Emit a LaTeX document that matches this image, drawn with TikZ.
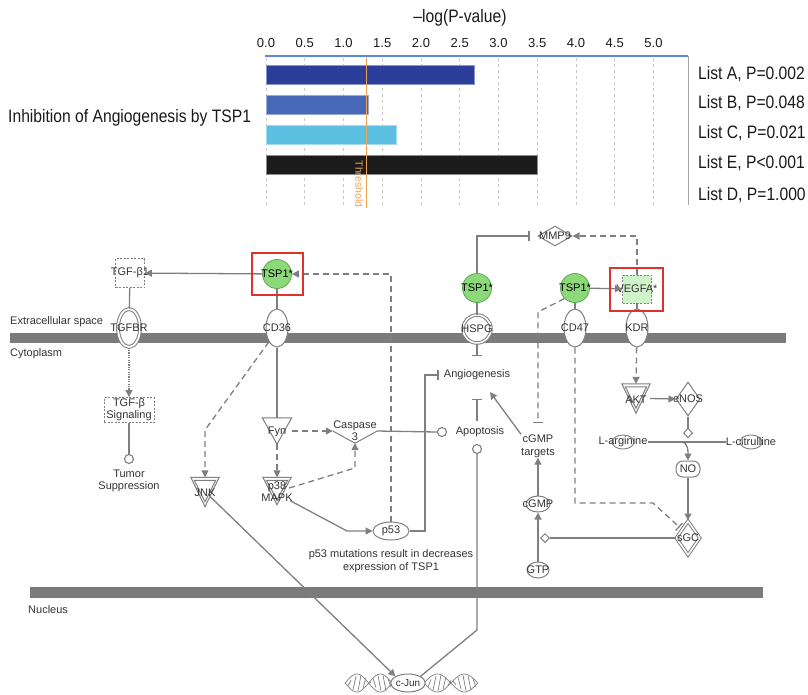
\documentclass[tikz,border=0pt]{standalone}
\usepackage{fontspec}
\setmainfont{Liberation Sans}
\newfontfamily\condfont[FakeStretch=0.87]{Liberation Sans}
\usetikzlibrary{shapes.geometric,arrows.meta,calc}
\definecolor{lc}{HTML}{7F7F7F}
\definecolor{tc}{HTML}{333333}
\definecolor{memb}{HTML}{7B7B7B}
\definecolor{gfill}{HTML}{8CD97A}
\definecolor{gdraw}{HTML}{5FA552}
\definecolor{redb}{HTML}{E0312B}
\definecolor{barA}{HTML}{2B3E99}
\definecolor{barB}{HTML}{4767B9}
\definecolor{barC}{HTML}{5CC0E2}
\definecolor{barE}{HTML}{1C1C1C}
\definecolor{axb}{HTML}{5A8AD8}
\definecolor{thr}{HTML}{F0A050}
\definecolor{vegf}{HTML}{CFF2C8}
\definecolor{gridc}{HTML}{C8C8C8}
\begin{document}
\begin{tikzpicture}[x=1pt,y=-1pt,
  ln/.style={draw=lc, line width=1.3pt},
  dsh/.style={draw=lc, line width=1.3pt, dash pattern=on 6pt off 4pt},
  dtd/.style={draw=lc, line width=1.1pt, dash pattern=on 1.2pt off 1.2pt},
  arr/.style={-{Triangle[length=7pt,width=7pt]}},
  inh/.style={-{Bar[width=10pt,line width=1.3pt]}},
  txt/.style={font=\fontsize{11}{12}\selectfont, text=tc, inner sep=0pt, align=center},
  big/.style={font=\fontsize{11}{13}\selectfont, text=tc, inner sep=0pt, align=center},
  side/.style={font=\fontsize{11}{13}\selectfont, text=tc, inner sep=0pt},
  chart/.style={font=\condfont\fontsize{18}{20}\selectfont, text=black!90, inner sep=0pt},
  tick/.style={font=\fontsize{13}{15}\selectfont, text=black!90, inner sep=0pt},
  gc/.style={circle, minimum size=29pt, inner sep=0pt, fill=gfill, draw=gdraw, line width=0.8pt},
  elp/.style={ellipse, minimum width=22pt, minimum height=38pt, inner sep=0pt, fill=white, draw=lc, line width=1pt},
  dbox/.style={rectangle, draw=lc, dash pattern=on 2pt off 1.5pt, line width=0.8pt, fill=white, inner sep=0pt},
  dia/.style={diamond, draw=lc, fill=white, line width=1pt, inner sep=0pt},
  smc/.style={circle, draw=lc, fill=white, line width=1.1pt, minimum size=9pt, inner sep=0pt},
  hid/.style={rectangle, draw=none, inner sep=0pt},
  tri/.style={draw=lc, line width=1pt, fill=white},
  dna/.style={draw=lc, line width=0.7pt},
  every label/.style={font=\fontsize{11}{12}\selectfont, text=tc, inner sep=0pt, align=center},
  redbox/.style={draw=redb, line width=2.5pt},
  gridl/.style={draw=gridc, line width=0.7pt, dash pattern=on 3pt off 3pt}
]
\useasboundingbox (0,0) rectangle (808,694);

% ================= chart =================
\foreach \k in {0,...,10} \draw[gridl] ({266+\k*38.75},58) -- ({266+\k*38.75},206);
\draw[gray!70, line width=1pt] (688,56) -- (688,205);
\filldraw[fill=barA, draw=barA!55!white, line width=0.8pt] (266,65) rectangle (474,84);
\filldraw[fill=barB, draw=barB!55!white, line width=0.8pt] (266,95) rectangle (368,114);
\filldraw[fill=barC, draw=barC!55!white, line width=0.8pt] (266,125) rectangle (396,144);
\filldraw[fill=barE, draw=black!45, line width=0.8pt] (266,155) rectangle (537,174);
\draw[thr, line width=0.9pt] (366.5,57) -- (366.5,208);
\draw[axb, line width=2.5pt] (265,56) -- (688,56);
\node[rotate=-90, font=\fontsize{10.5}{12}\selectfont, text=thr, inner sep=0pt] (thrT) at (359,184) {Threshold};
\foreach \k/\t in {0/0.0,1/0.5,2/1.0,3/1.5,4/2.0,5/2.5,6/3.0,7/3.5,8/4.0,9/4.5,10/5.0}
  \node[tick] (tk\k) at ({266+\k*38.75},43) {\t};
\node[chart] (ttl) at (460,18) {–log(P-value)};
\node[chart, anchor=west] (lA) at (698,74) {List A, P=0.002};
\node[chart, anchor=west] (lB) at (698,103) {List B, P=0.048};
\node[chart, anchor=west] (lC) at (698,133) {List C, P=0.021};
\node[chart, anchor=west] (lE) at (698,163) {List E, P<0.001};
\node[chart, anchor=west] (lD) at (698,195) {List D, P=1.000};
\node[chart, anchor=west] (ptitle) at (8,118) {Inhibition of Angiogenesis by TSP1};

% ================= membranes =================
\fill[memb] (10,333) rectangle (786,343);
\fill[memb] (30,587) rectangle (763,598);
\node[side, anchor=west] (ext) at (10,322) {Extracellular space};
\node[side, anchor=west] (cyt) at (10,354) {Cytoplasm};
\node[side, anchor=west] (nuc) at (28,610) {Nucleus};

% ================= DNA =================
\foreach \s in {1,-1}{
  \draw[dna] plot[domain=345:392, samples=60, smooth] (\x,{683+\s*9*sin((\x-392)*7.7)});
  \draw[dna] plot[domain=424:478, samples=60, smooth] (\x,{683+\s*9*sin((\x-424)*6.7)});
}
\foreach \xx in {348,353,...,388}
  \draw[dna] ({\xx},{683+8*sin((\xx-392)*7.7)}) -- ({\xx+3},{683-8*sin((\xx-392)*7.7)});
\foreach \xx in {428,433,...,473}
  \draw[dna] ({\xx},{683+8*sin((\xx-424)*6.7)}) -- ({\xx+3},{683-8*sin((\xx-424)*6.7)});

% ================= nodes =================
\node[dbox, minimum size=29pt, label=center:TGF-β1] (TGFb1) at (130,273) {};
\node[gc, label={[text=black]center:TSP1*}] (TSP1a) at (277,274) {};
\node[elp, double=white, double distance=1.8pt, label=center:TGFBR] (TGFBR) at (129,328) {};
\node[elp, label=center:CD36] (CD36) at (277,328) {};
\node[dbox, minimum width=50pt, minimum height=25pt, txt] (TGFsig) at (129,410) {TGF-β\\Signaling};
\node[smc] (tcirc) at (129,459) {};
\node[txt] (tumor) at (129,481) {Tumor\\Suppression};

\node[hid, minimum width=28pt, minimum height=29pt] (JNK) at (205,492) {};
\draw[tri] (JNK.north west) -- (JNK.north east) -- (JNK.south) -- cycle;
\draw[tri] ($(JNK.north west)+(3.5,3)$) -- ($(JNK.north east)+(-3.5,3)$) -- ($(JNK.south)+(0,-5)$) -- cycle;
\node[txt] (JNKt) at (205,493) {JNK};

\node[hid, minimum width=29pt, minimum height=26pt] (Fyn) at (277,431) {};
\draw[tri] (Fyn.north west) -- (Fyn.north east) -- (Fyn.south) -- cycle;
\node[txt] (Fynt) at (277,432) {Fyn};

\node[hid, minimum width=28pt, minimum height=27pt] (p38) at (277,491) {};
\draw[tri] (p38.north west) -- (p38.north east) -- (p38.south) -- cycle;
\draw[tri] ($(p38.north west)+(3.5,3)$) -- ($(p38.north east)+(-3.5,3)$) -- ($(p38.south)+(0,-5)$) -- cycle;
\node[txt] (p38t) at (277,492) {p38\\MAPK};

\node[hid, minimum width=44pt, minimum height=24pt] (Casp) at (355,431) {};
\draw[ln, line width=1pt] (Casp.west) -- (Casp.south) -- (Casp.east);
\node[txt] (Caspt) at (355,431) {Caspase\\3};

\node[ellipse, draw=lc, fill=white, line width=1pt, minimum width=36pt, minimum height=18pt, inner sep=0pt, txt] (p53) at (391,531) {p53};
\node[big, anchor=north] (cap) at (391,549) {p53 mutations result in decreases\\expression of TSP1};

\node[big, inner xsep=5pt] (Angio) at (477,375) {Angiogenesis};
\node[smc] (acirc) at (442,432) {};
\node[big] (Apop) at (480,432) {Apoptosis};
\node[smc] (bcirc) at (477,449) {};
\node[ellipse, draw=lc, fill=white, line width=1pt, minimum width=32pt, minimum height=18pt, inner sep=0pt, txt, font=\fontsize{10}{11}\selectfont] (cJun) at (408,683) {c-Jun};

\node[gc, label={[text=black]center:TSP1*}] (TSP1b) at (477,288) {};
\node[circle, draw=lc, fill=white, line width=1pt, double=white, double distance=1.5pt, minimum size=28pt, inner sep=0pt, label=center:HSPG] (HSPG) at (477,329) {};
\node[dia, minimum width=34pt, minimum height=20pt, label=center:MMP9] (MMP9) at (555,236) {};
\node[gc, label={[text=black]center:TSP1*}] (TSP1c) at (575,288) {};
\node[elp, label=center:CD47] (CD47) at (575,328) {};
\node[dbox, fill=vegf, minimum width=29pt, minimum height=28pt, label=center:VEGFA*] (VEGFA) at (637,289) {};
\node[elp, label=center:KDR] (KDR) at (637,328) {};

\node[hid, minimum width=28pt, minimum height=29pt] (AKT) at (636,398.5) {};
\draw[tri] (AKT.north west) -- (AKT.north east) -- (AKT.south) -- cycle;
\draw[tri] ($(AKT.north west)+(3.5,3)$) -- ($(AKT.north east)+(-3.5,3)$) -- ($(AKT.south)+(0,-5)$) -- cycle;
\node[txt] (AKTt) at (636,400) {AKT};

\node[dia, minimum width=24pt, minimum height=34pt, label=center:eNOS] (eNOS) at (688,399) {};
\node[dia, minimum width=9pt, minimum height=10pt] (sd1) at (688,433) {};
\node[ellipse, draw=lc, line width=0.9pt, minimum width=22pt, minimum height=14pt, inner sep=0pt] (LargE) at (623,442) {};
\node[txt] (Larg) at (623,442) {L-arginine};
\node[ellipse, draw=lc, line width=0.9pt, minimum width=22pt, minimum height=14pt, inner sep=0pt] (LcitE) at (751,442) {};
\node[txt] (Lcit) at (751,442) {L-citrulline};
\node[rectangle, rounded corners=7pt, draw=lc, fill=white, line width=1pt, minimum width=24pt, minimum height=16pt, inner sep=0pt, txt] (NO) at (688,469) {NO};
\node[dia, minimum width=24pt, minimum height=34pt, double=white, double distance=1.5pt, label=center:sGC] (sGC) at (688,538) {};
\node[dia, minimum width=9pt, minimum height=9pt] (sd2) at (545,538) {};
\node[ellipse, draw=lc, fill=white, line width=1pt, minimum width=24pt, minimum height=16pt, inner sep=0pt, label=center:cGMP] (cGMP) at (538,504) {};
\node[ellipse, draw=lc, fill=white, line width=1pt, minimum width=22pt, minimum height=16pt, inner sep=0pt, label=center:GTP] (GTP) at (538,570) {};
\node[big] (cGt) at (538,446) {cGMP\\targets};

% ================= connectors =================
\coordinate (jb) at (205,430);
\coordinate (cb) at (355,468);
\coordinate (pb) at (347,531);
\coordinate (apT) at (477,421);
\coordinate (apB) at (477,399);
\coordinate (hT) at (477,356);
\coordinate (cd1) at (538,312);
\coordinate (angT) at (490,392);
\coordinate (cvs) at (681,442);

\draw[ln,arr] (TSP1a) -- (TGFb1);
\draw[dsh,arr] (p53.north) |- (TSP1a.east);
\draw[ln] (TGFb1) -- (TGFBR);
\draw[dtd,arr] (TGFBR) -- (TGFsig);
\draw[ln] (TGFsig) -- (tcirc);
\draw[ln] (TSP1a) -- (CD36);
\draw[dsh,arr] (CD36.south west) -- (jb) -- (JNK.north);
\draw[ln] (CD36.south) -- (Fyn.north);
\draw[dsh,arr] (Fyn.east) -- (Casp.west);
\draw[dsh,arr] (Fyn.south) -- (p38.north);
\draw[dsh,arr] ($(p38.east)+(-2,-3)$) -- (cb) -- (Casp.south);
\draw[ln,arr] ($(p38.south east)+(-1,-4)$) -- (pb) -- (p53.west);
\draw[ln,inh] (p53.east) -- (425,531) -- (425,375) -- (Angio.west);
\draw[ln] (Casp.east) -- (acirc.west);
\draw[ln,inh] (apT) -- (apB);
\draw[ln] (bcirc.south) -- (477,630) -- (cJun.north east);
\draw[ln,arr] ($(JNK.south)!0.35!(JNK.north east)$) -- (cJun.north west);

\draw[ln] (TSP1b) -- (HSPG);
\draw[ln,inh] (HSPG.south) -- (hT);
\draw[ln,inh,shorten >=8pt] (TSP1b.north) |- (MMP9.west);
\draw[ln] (TSP1c) -- (CD47);
\draw[ln,arr] (TSP1c) -- (VEGFA);
\draw[ln] (VEGFA) -- (KDR);
\draw[dsh,arr] (VEGFA.north) |- (MMP9.east);
\draw[dsh,inh,shorten >=11pt] (TSP1c.south west) -- (cd1) -- (cGt.north);
\draw[dsh,inh,shorten >=3pt] (CD47.south) -- (575,503) -- (653,503) -- (sGC.north west);
\draw[dsh,arr] (KDR) -- (AKT.north);
\draw[ln,arr] (AKT.east) -- (eNOS.west);
\draw[ln] (eNOS.south) -- (sd1.north);
\draw[ln] (Larg.east) -- (Lcit.west);
\draw[ln,arr] (cvs) to[out=0,in=90] (NO.north);
\draw[ln,arr] (NO) -- (sGC);
\draw[ln] (sGC.west) -- (sd2.east);
\draw[ln,arr] (GTP) -- (cGMP);
\draw[ln,arr] (cGMP) -- (cGt);
\draw[ln,arr] (cGt.north west) -- (angT);

% ================= highlight boxes =================
\draw[redbox] (252,253) rectangle (303,295);
\draw[redbox] (610,268) rectangle (663,311);
\end{tikzpicture}
\end{document}
